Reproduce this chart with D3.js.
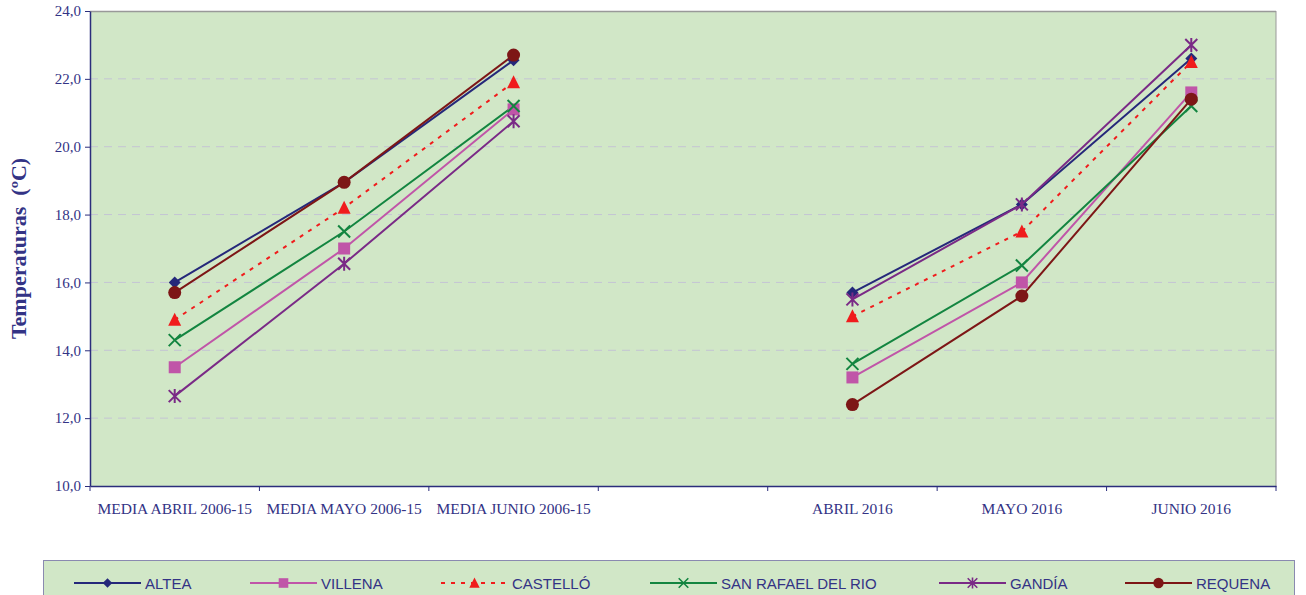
<!DOCTYPE html>
<html>
<head>
<meta charset="utf-8">
<script src="https://cdn.jsdelivr.net/npm/d3@7"></script>
<style>
  body { margin: 0; background: #fff; }
</style>
</head>
<body>
<div id="chart"></div>
<script>
// categories (the empty one is the gap between the two groups)
var categories = ["MEDIA ABRIL 2006-15", "MEDIA MAYO 2006-15", "MEDIA JUNIO 2006-15", "",
                  "ABRIL 2016", "MAYO 2016", "JUNIO 2016"];
var yTicks = [10, 12, 14, 16, 18, 20, 22, 24];

var altea     = [16.0, 18.95, 22.55, null, 15.7, 18.3, 22.6];
var villena   = [13.5, 17.0, 21.1, null, 13.2, 16.0, 21.6];
var castello  = [14.9, 18.2, 21.9, null, 15.0, 17.5, 22.5];
var sanRafael = [14.3, 17.5, 21.2, null, 13.6, 16.5, 21.2];
var gandia    = [12.65, 16.55, 20.75, null, 15.5, 18.3, 23.0];
var requena   = [15.7, 18.95, 22.7, null, 12.4, 15.6, 21.4];

var series = [
    { name: "ALTEA", values: altea, color: "#25287a", marker: "diamond", dash: null },
    { name: "VILLENA", values: villena, color: "#c055a8", marker: "square", dash: null },
    { name: "CASTELLÓ", values: castello, color: "#f01c1c", marker: "triangle", dash: "4,6" },
    { name: "SAN RAFAEL DEL RIO", values: sanRafael, color: "#138540", marker: "x", dash: null },
    { name: "GANDÍA", values: gandia, color: "#7a2a86", marker: "star", dash: null },
    { name: "REQUENA", values: requena, color: "#7d1616", marker: "circle", dash: null }
];

var W = 1306, H = 595;
var margin = { top: 11, left: 90, right: 30, bottom: 109 };
var plotW = W - margin.left - margin.right,
    plotH = H - margin.top - margin.bottom;

var axisColor = "#2b2d7c";
var textColor = "#333385";

var svg = d3.select("#chart").append("svg")
    .attr("width", W).attr("height", H);

var g = svg.append("g")
    .attr("transform", "translate(" + margin.left + "," + margin.top + ")");

var x = d3.scaleBand().domain(categories).range([0, plotW]).padding(0);
var y = d3.scaleLinear().domain([10, 24]).range([plotH, 0]);

// plot background
g.append("rect")
    .attr("width", plotW).attr("height", plotH)
    .attr("fill", "#d1e7c7");

// gridlines
g.selectAll(".grid").data(yTicks.filter(function (d) { return d > 10 && d < 24; }))
    .enter().append("line")
    .attr("x1", 0).attr("x2", plotW)
    .attr("y1", function (d) { return y(d); })
    .attr("y2", function (d) { return y(d); })
    .attr("stroke", "#c4c4d4")
    .attr("stroke-width", 1)
    .attr("stroke-dasharray", "8,6");

// top and right border
g.append("line").attr("x1", 0).attr("x2", plotW).attr("y1", 0.5).attr("y2", 0.5)
    .attr("stroke", "#999999").attr("stroke-width", 1.5);
g.append("line").attr("x1", plotW).attr("x2", plotW).attr("y1", 0).attr("y2", plotH)
    .attr("stroke", "#999999").attr("stroke-width", 1);

// y axis
var yAxis = g.append("g")
    .call(d3.axisLeft(y).tickValues(yTicks).tickSize(5).tickSizeOuter(0)
        .tickFormat(function (d) { return d3.format(".1f")(d).replace(".", ","); }));
yAxis.select(".domain").attr("stroke", axisColor).attr("stroke-width", 1.5);
yAxis.selectAll(".tick line").attr("stroke", axisColor);
yAxis.selectAll("text")
    .attr("fill", textColor)
    .attr("x", -9)
    .style("font-family", "'Liberation Serif', 'Times New Roman', serif")
    .style("font-size", "15px");

// x axis: ticks at category boundaries, labels at centers
var xAxis = g.append("g").attr("transform", "translate(0," + plotH + ")")
    .call(d3.axisBottom(x).tickSize(0).tickSizeOuter(0));
xAxis.select(".domain").attr("stroke", axisColor).attr("stroke-width", 1.5);
xAxis.selectAll("text")
    .attr("fill", textColor)
    .attr("dy", 0)
    .attr("y", 28)
    .style("font-family", "'Liberation Serif', 'Times New Roman', serif")
    .style("font-size", "15.5px");

var bounds = categories.map(function (c) { return x(c); }).concat([plotW]);
xAxis.selectAll(".bound").data(bounds).enter().append("line")
    .attr("x1", function (d) { return d; }).attr("x2", function (d) { return d; })
    .attr("y1", 0).attr("y2", 5)
    .attr("stroke", axisColor);

// axis title
svg.append("text")
    .attr("transform", "translate(26," + (margin.top + plotH / 2) + ") rotate(-90)")
    .attr("text-anchor", "middle")
    .attr("fill", textColor)
    .style("font-family", "'Liberation Serif', 'Times New Roman', serif")
    .style("font-size", "22px")
    .style("font-weight", "bold")
    .style("white-space", "pre")
    .text("Temperaturas  (ºC)");

// markers
function drawMarker(sel, type, color) {
    if (type === "diamond") {
        sel.append("path").attr("d", "M0,-6L6,0L0,6L-6,0Z").attr("fill", color);
    } else if (type === "square") {
        sel.append("rect").attr("x", -6).attr("y", -6).attr("width", 12).attr("height", 12).attr("fill", color);
    } else if (type === "triangle") {
        sel.append("path").attr("d", "M0,-7L6.5,6L-6.5,6Z").attr("fill", color);
    } else if (type === "circle") {
        sel.append("circle").attr("r", 6.5).attr("fill", color);
    } else if (type === "x") {
        sel.append("path").attr("d", "M-6,-6L6,6M-6,6L6,-6")
            .attr("stroke", color).attr("stroke-width", 2).attr("fill", "none");
    } else if (type === "star") {
        sel.append("path").attr("d", "M-6,-6L6,6M-6,6L6,-6M0,-7L0,7")
            .attr("stroke", color).attr("stroke-width", 2).attr("fill", "none");
    }
}

var line = d3.line()
    .defined(function (d) { return d != null; })
    .x(function (d, i) { return x(categories[i]) + x.bandwidth() / 2; })
    .y(function (d) { return y(d); });

series.forEach(function (s) {
    g.append("path")
        .datum(s.values)
        .attr("d", line)
        .attr("fill", "none")
        .attr("stroke", s.color)
        .attr("stroke-width", 2)
        .attr("stroke-dasharray", s.dash);
});

series.forEach(function (s) {
    s.values.forEach(function (v, i) {
        if (v == null) return;
        var m = g.append("g")
            .attr("transform", "translate(" + (x(categories[i]) + x.bandwidth() / 2) + "," + y(v) + ")");
        drawMarker(m, s.marker, s.color);
    });
});

// legend
var legend = svg.append("g");
legend.append("rect")
    .attr("x", 43.5).attr("y", 560.5).attr("width", 1251).attr("height", 40)
    .attr("fill", "#d1e7c7").attr("stroke", "#8a8ab0").attr("stroke-width", 1);

var legendX = [74, 250, 441, 650, 939, 1125];
series.forEach(function (s, i) {
    var lg = legend.append("g").attr("transform", "translate(" + legendX[i] + ",583)");
    lg.append("line").attr("x1", 0).attr("x2", 67).attr("y1", 0).attr("y2", 0)
        .attr("stroke", s.color).attr("stroke-width", 2).attr("stroke-dasharray", s.dash);
    var m = lg.append("g").attr("transform", "translate(33.5,0) scale(0.8)");
    drawMarker(m, s.marker, s.color);
    lg.append("text")
        .attr("x", 71).attr("y", 5.5)
        .attr("fill", textColor)
        .style("font-family", "'Liberation Sans', Arial, sans-serif")
        .style("font-size", "15px")
        .text(s.name);
});
</script>
</body>
</html>
